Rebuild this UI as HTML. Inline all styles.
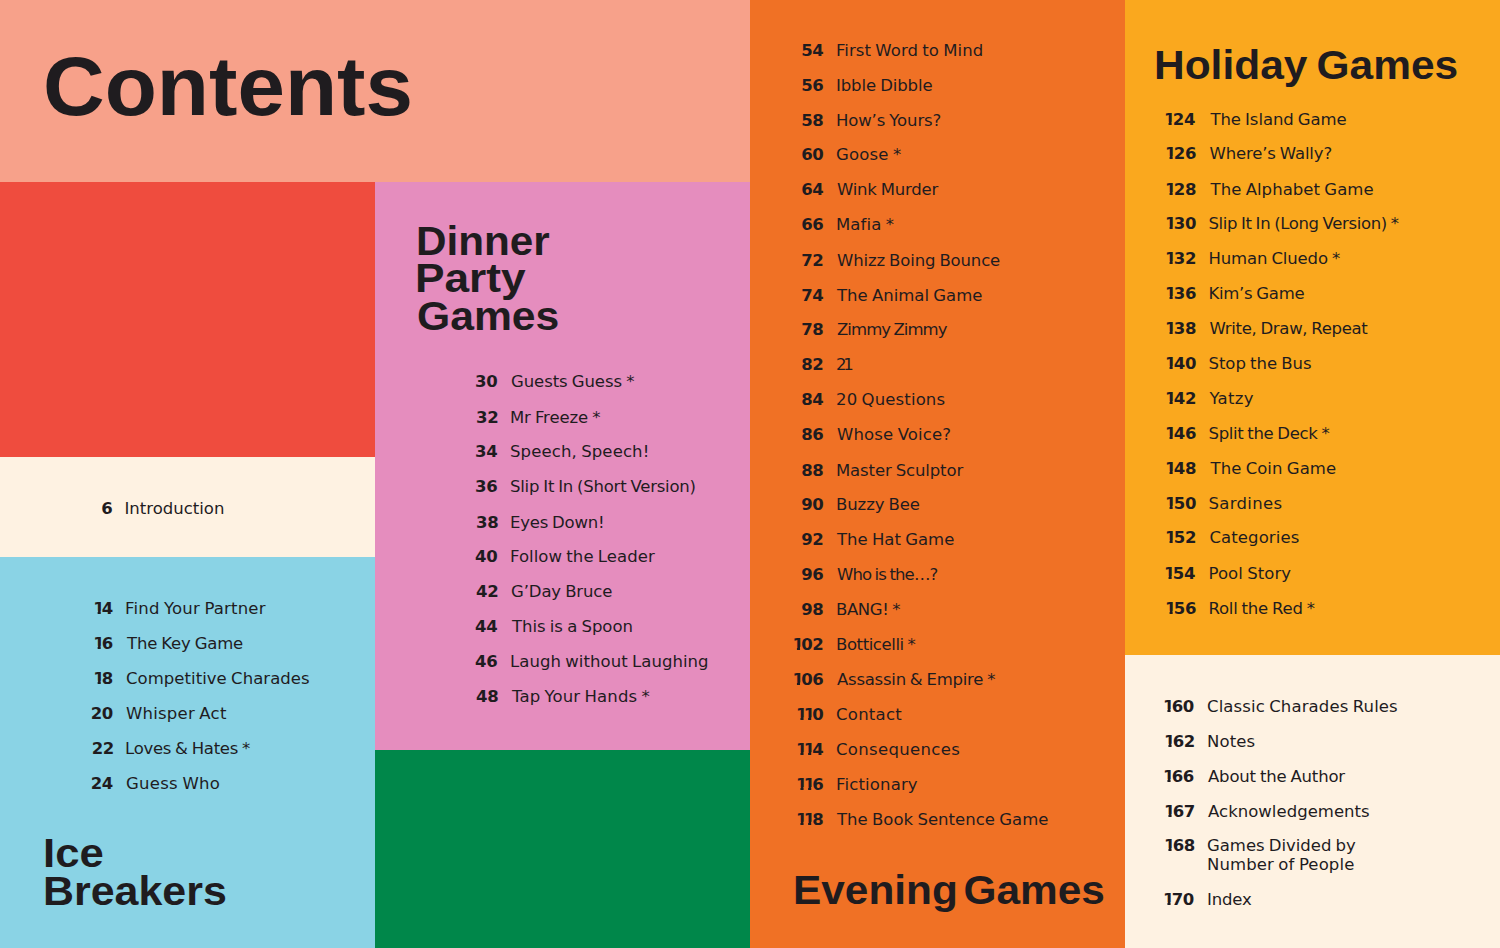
<!DOCTYPE html>
<html lang="en">
<head>
<meta charset="utf-8">
<title>Contents</title>
<style>

html,body{margin:0;padding:0;}
body{width:1500px;height:948px;position:relative;overflow:hidden;background:#FEF2E2;color:#1F1C1F;}
.b{position:absolute;}
.h{position:absolute;font-family:"Liberation Sans",Arial,sans-serif;font-weight:700;white-space:nowrap;margin:0;font-size:41.5px;line-height:38px;}
.n,.t{position:absolute;font-family:"DejaVu Sans","Liberation Sans",sans-serif;font-size:16.5px;line-height:20px;white-space:nowrap;}
.n{font-weight:700;text-align:right;letter-spacing:-0.3px;}
.t{word-spacing:-1.0px;}
.n i{font-style:normal;clip-path:polygon(0 0,100% 0,100% 12.2px,7.6px 12.2px,7.6px 100%,4.5px 100%,4.5px 12.2px,0 12.2px);margin-left:-1px;letter-spacing:-2.8px;}

</style>
</head>
<body>

<div class="b" style="left:0;top:0;width:750px;height:182px;background:#F7A18A"></div>
<div class="b" style="left:0;top:182px;width:375px;height:275px;background:#EF4C3E"></div>
<div class="b" style="left:0;top:457px;width:375px;height:100px;background:#FEF2E2"></div>
<div class="b" style="left:0;top:557px;width:375px;height:391px;background:#8AD3E5"></div>
<div class="b" style="left:375px;top:182px;width:375px;height:568px;background:#E58DBE"></div>
<div class="b" style="left:375px;top:750px;width:375px;height:198px;background:#00874A"></div>
<div class="b" style="left:750px;top:0;width:375px;height:948px;background:#F07125"></div>
<div class="b" style="left:1125px;top:0;width:375px;height:655px;background:#FAA81E"></div>
<div class="b" style="left:1125px;top:655px;width:375px;height:293px;background:#FEF2E2"></div>

<h1 class="h" id="contents" style="left:43.12px;top:36px;font-size:84px;line-height:100px;word-spacing:0px;transform:scaleX(1.0164);transform-origin:0 0">Contents</h1>
<div class="h" id="dinner1" style="left:415.94px;top:222px;font-size:41.5px;line-height:37.7px;word-spacing:0px;transform:scaleX(1.0172);transform-origin:0 0">Dinner</div>
<div class="h" id="dinner2" style="left:415.01px;top:258.9px;font-size:41.5px;line-height:37.7px;word-spacing:0px;transform:scaleX(1.066);transform-origin:0 0">Party</div>
<div class="h" id="dinner3" style="left:416.94px;top:297.4px;font-size:41.5px;line-height:37.7px;word-spacing:0px;transform:scaleX(1.0282);transform-origin:0 0">Games</div>
<div class="h" id="ice1" style="left:43.25px;top:834px;font-size:41.5px;line-height:37.7px;word-spacing:0px;transform:scaleX(1.053);transform-origin:0 0">Ice</div>
<div class="h" id="ice2" style="left:43.29px;top:871.7px;font-size:41.5px;line-height:37.7px;word-spacing:0px;transform:scaleX(1.0347);transform-origin:0 0">Breakers</div>
<div class="h" id="evening" style="left:792.54px;top:871px;font-size:41.5px;line-height:37.7px;word-spacing:-6px;transform:scaleX(1.0212);transform-origin:0 0">Evening Games</div>
<div class="h" id="holiday" style="left:1153.94px;top:46px;font-size:41.5px;line-height:37.7px;word-spacing:-2.5px;transform:scaleX(1.0231);transform-origin:0 0">Holiday Games</div>
<span class="n" id="n-intro0" style="right:1387.5px;top:498.5px">6</span>
<span class="t" id="t-intro0" style="left:124.5px;top:498.5px;letter-spacing:0.0px">Introduction</span>
<span class="n" id="n-ice0" style="right:1387.0px;top:598.5px"><i>1</i>4</span>
<span class="t" id="t-ice0" style="left:125.0px;top:598.5px;letter-spacing:0.188px">Find Your Partner</span>
<span class="n" id="n-ice1" style="right:1387.0px;top:633.5px"><i>1</i>6</span>
<span class="t" id="t-ice1" style="left:127.0px;top:633.5px;letter-spacing:-0.181px">The Key Game</span>
<span class="n" id="n-ice2" style="right:1387.0px;top:668.5px"><i>1</i>8</span>
<span class="t" id="t-ice2" style="left:126.0px;top:668.5px;letter-spacing:0.042px">Competitive Charades</span>
<span class="n" id="n-ice3" style="right:1387.0px;top:703.5px">20</span>
<span class="t" id="t-ice3" style="left:126.0px;top:703.5px;letter-spacing:0.22px">Whisper Act</span>
<span class="n" id="n-ice4" style="right:1386.0px;top:738.5px">22</span>
<span class="t" id="t-ice4" style="left:125.0px;top:738.5px;letter-spacing:-0.272px">Loves &amp; Hates *</span>
<span class="n" id="n-ice5" style="right:1387.0px;top:773.5px">24</span>
<span class="t" id="t-ice5" style="left:126.0px;top:773.5px;letter-spacing:0.277px">Guess Who</span>
<span class="n" id="n-dinner0" style="right:1002.6px;top:372.0px">30</span>
<span class="t" id="t-dinner0" style="left:511.0px;top:372.0px;letter-spacing:-0.076px">Guests Guess *</span>
<span class="n" id="n-dinner1" style="right:1001.6px;top:407.65px">32</span>
<span class="t" id="t-dinner1" style="left:510.0px;top:407.65px;letter-spacing:-0.12px">Mr Freeze *</span>
<span class="n" id="n-dinner2" style="right:1002.6px;top:442.3px">34</span>
<span class="t" id="t-dinner2" style="left:510.0px;top:442.3px;letter-spacing:0.115px">Speech, Speech!</span>
<span class="n" id="n-dinner3" style="right:1002.6px;top:476.95px">36</span>
<span class="t" id="t-dinner3" style="left:510.0px;top:476.95px;letter-spacing:-0.224px">Slip It In (Short Version)</span>
<span class="n" id="n-dinner4" style="right:1001.6px;top:512.6px">38</span>
<span class="t" id="t-dinner4" style="left:510.0px;top:512.6px;letter-spacing:-0.222px">Eyes Down!</span>
<span class="n" id="n-dinner5" style="right:1002.6px;top:547.25px">40</span>
<span class="t" id="t-dinner5" style="left:510.0px;top:547.25px;letter-spacing:0.05px">Follow the Leader</span>
<span class="n" id="n-dinner6" style="right:1001.6px;top:581.9px">42</span>
<span class="t" id="t-dinner6" style="left:511.0px;top:581.9px;letter-spacing:-0.12px">G’Day Bruce</span>
<span class="n" id="n-dinner7" style="right:1002.6px;top:616.55px">44</span>
<span class="t" id="t-dinner7" style="left:512.0px;top:616.55px;letter-spacing:-0.029px">This is a Spoon</span>
<span class="n" id="n-dinner8" style="right:1002.6px;top:652.2px">46</span>
<span class="t" id="t-dinner8" style="left:510.0px;top:652.2px;letter-spacing:0.056px">Laugh without Laughing</span>
<span class="n" id="n-dinner9" style="right:1001.6px;top:686.85px">48</span>
<span class="t" id="t-dinner9" style="left:512.0px;top:686.85px;letter-spacing:0.107px">Tap Your Hands *</span>
<span class="n" id="n-evening0" style="right:676.5px;top:41.0px">54</span>
<span class="t" id="t-evening0" style="left:836.0px;top:41.0px;letter-spacing:0.059px">First Word to Mind</span>
<span class="n" id="n-evening1" style="right:676.5px;top:75.8px">56</span>
<span class="t" id="t-evening1" style="left:836.0px;top:75.8px;letter-spacing:-0.108px">Ibble Dibble</span>
<span class="n" id="n-evening2" style="right:676.5px;top:110.6px">58</span>
<span class="t" id="t-evening2" style="left:836.0px;top:110.6px;letter-spacing:-0.127px">How’s Yours?</span>
<span class="n" id="n-evening3" style="right:676.5px;top:145.4px">60</span>
<span class="t" id="t-evening3" style="left:836.0px;top:145.4px;letter-spacing:0.167px">Goose *</span>
<span class="n" id="n-evening4" style="right:676.5px;top:180.2px">64</span>
<span class="t" id="t-evening4" style="left:837.0px;top:180.2px;letter-spacing:-0.22px">Wink Murder</span>
<span class="n" id="n-evening5" style="right:676.5px;top:215.0px">66</span>
<span class="t" id="t-evening5" style="left:836.0px;top:215.0px;letter-spacing:0.1px">Mafia *</span>
<span class="n" id="n-evening6" style="right:676.5px;top:250.8px">72</span>
<span class="t" id="t-evening6" style="left:837.0px;top:250.8px;letter-spacing:-0.14px">Whizz Boing Bounce</span>
<span class="n" id="n-evening7" style="right:676.5px;top:285.6px">74</span>
<span class="t" id="t-evening7" style="left:837.0px;top:285.6px;letter-spacing:0.0px">The Animal Game</span>
<span class="n" id="n-evening8" style="right:676.5px;top:320.4px">78</span>
<span class="t" id="t-evening8" style="left:837.0px;top:320.4px;letter-spacing:-0.94px">Zimmy Zimmy</span>
<span class="n" id="n-evening9" style="right:676.5px;top:355.2px">82</span>
<span class="t" id="t-evening9" style="left:836.0px;top:355.2px;letter-spacing:-3.2px">21</span>
<span class="n" id="n-evening10" style="right:676.5px;top:390.0px">84</span>
<span class="t" id="t-evening10" style="left:836.0px;top:390.0px;letter-spacing:0.128px">20 Questions</span>
<span class="n" id="n-evening11" style="right:676.5px;top:424.8px">86</span>
<span class="t" id="t-evening11" style="left:837.0px;top:424.8px;letter-spacing:0.128px">Whose Voice?</span>
<span class="n" id="n-evening12" style="right:676.5px;top:460.6px">88</span>
<span class="t" id="t-evening12" style="left:836.0px;top:460.6px;letter-spacing:-0.129px">Master Sculptor</span>
<span class="n" id="n-evening13" style="right:676.5px;top:495.4px">90</span>
<span class="t" id="t-evening13" style="left:836.0px;top:495.4px;letter-spacing:-0.098px">Buzzy Bee</span>
<span class="n" id="n-evening14" style="right:676.5px;top:530.2px">92</span>
<span class="t" id="t-evening14" style="left:837.0px;top:530.2px;letter-spacing:0.0px">The Hat Game</span>
<span class="n" id="n-evening15" style="right:676.5px;top:565.0px">96</span>
<span class="t" id="t-evening15" style="left:837.0px;top:565.0px;letter-spacing:-0.873px">Who is the…?</span>
<span class="n" id="n-evening16" style="right:676.5px;top:599.8px">98</span>
<span class="t" id="t-evening16" style="left:836.0px;top:599.8px;letter-spacing:-0.4px">BANG! *</span>
<span class="n" id="n-evening17" style="right:676.5px;top:634.6px"><i>1</i>02</span>
<span class="t" id="t-evening17" style="left:836.0px;top:634.6px;letter-spacing:-0.417px">Botticelli *</span>
<span class="n" id="n-evening18" style="right:676.5px;top:670.4px"><i>1</i>06</span>
<span class="t" id="t-evening18" style="left:837.0px;top:670.4px;letter-spacing:-0.245px">Assassin &amp; Empire *</span>
<span class="n" id="n-evening19" style="right:676.5px;top:705.2px"><i>1</i><i>1</i>0</span>
<span class="t" id="t-evening19" style="left:836.0px;top:705.2px;letter-spacing:0.267px">Contact</span>
<span class="n" id="n-evening20" style="right:676.5px;top:740.0px"><i>1</i><i>1</i>4</span>
<span class="t" id="t-evening20" style="left:836.0px;top:740.0px;letter-spacing:0.326px">Consequences</span>
<span class="n" id="n-evening21" style="right:676.5px;top:774.8px"><i>1</i><i>1</i>6</span>
<span class="t" id="t-evening21" style="left:836.0px;top:774.8px;letter-spacing:0.157px">Fictionary</span>
<span class="n" id="n-evening22" style="right:676.5px;top:809.6px"><i>1</i><i>1</i>8</span>
<span class="t" id="t-evening22" style="left:837.0px;top:809.6px;letter-spacing:0.019px">The Book Sentence Game</span>
<span class="n" id="n-holiday0" style="right:304.9px;top:109.5px"><i>1</i>24</span>
<span class="t" id="t-holiday0" style="left:1210.5px;top:109.5px;letter-spacing:-0.085px">The Island Game</span>
<span class="n" id="n-holiday1" style="right:303.9px;top:144.15px"><i>1</i>26</span>
<span class="t" id="t-holiday1" style="left:1209.5px;top:144.15px;letter-spacing:-0.153px">Where’s Wally?</span>
<span class="n" id="n-holiday2" style="right:303.9px;top:179.8px"><i>1</i>28</span>
<span class="t" id="t-holiday2" style="left:1210.5px;top:179.8px;letter-spacing:0.05px">The Alphabet Game</span>
<span class="n" id="n-holiday3" style="right:303.9px;top:214.45px"><i>1</i>30</span>
<span class="t" id="t-holiday3" style="left:1208.5px;top:214.45px;letter-spacing:-0.353px">Slip It In (Long Version) *</span>
<span class="n" id="n-holiday4" style="right:303.9px;top:249.1px"><i>1</i>32</span>
<span class="t" id="t-holiday4" style="left:1208.5px;top:249.1px;letter-spacing:-0.137px">Human Cluedo *</span>
<span class="n" id="n-holiday5" style="right:303.9px;top:283.75px"><i>1</i>36</span>
<span class="t" id="t-holiday5" style="left:1208.5px;top:283.75px;letter-spacing:-0.289px">Kim’s Game</span>
<span class="n" id="n-holiday6" style="right:303.9px;top:319.4px"><i>1</i>38</span>
<span class="t" id="t-holiday6" style="left:1209.5px;top:319.4px;letter-spacing:-0.301px">Write, Draw, Repeat</span>
<span class="n" id="n-holiday7" style="right:303.9px;top:354.05px"><i>1</i>40</span>
<span class="t" id="t-holiday7" style="left:1208.5px;top:354.05px;letter-spacing:-0.038px">Stop the Bus</span>
<span class="n" id="n-holiday8" style="right:303.9px;top:388.7px"><i>1</i>42</span>
<span class="t" id="t-holiday8" style="left:1209.5px;top:388.7px;letter-spacing:0.3px">Yatzy</span>
<span class="n" id="n-holiday9" style="right:303.9px;top:424.35px"><i>1</i>46</span>
<span class="t" id="t-holiday9" style="left:1208.5px;top:424.35px;letter-spacing:-0.333px">Split the Deck *</span>
<span class="n" id="n-holiday10" style="right:303.9px;top:459.0px"><i>1</i>48</span>
<span class="t" id="t-holiday10" style="left:1210.5px;top:459.0px;letter-spacing:0.051px">The Coin Game</span>
<span class="n" id="n-holiday11" style="right:303.9px;top:493.65px"><i>1</i>50</span>
<span class="t" id="t-holiday11" style="left:1208.5px;top:493.65px;letter-spacing:0.313px">Sardines</span>
<span class="n" id="n-holiday12" style="right:303.9px;top:528.3px"><i>1</i>52</span>
<span class="t" id="t-holiday12" style="left:1209.5px;top:528.3px;letter-spacing:0.09px">Categories</span>
<span class="n" id="n-holiday13" style="right:304.9px;top:563.95px"><i>1</i>54</span>
<span class="t" id="t-holiday13" style="left:1208.5px;top:563.95px;letter-spacing:0.065px">Pool Story</span>
<span class="n" id="n-holiday14" style="right:303.9px;top:598.6px"><i>1</i>56</span>
<span class="t" id="t-holiday14" style="left:1208.5px;top:598.6px;letter-spacing:-0.231px">Roll the Red *</span>
<span class="n" id="n-back0" style="right:306.0px;top:697.0px"><i>1</i>60</span>
<span class="t" id="t-back0" style="left:1207.0px;top:697.0px;letter-spacing:0.115px">Classic Charades Rules</span>
<span class="n" id="n-back1" style="right:305.0px;top:731.5px"><i>1</i>62</span>
<span class="t" id="t-back1" style="left:1207.0px;top:731.5px;letter-spacing:0.1px">Notes</span>
<span class="n" id="n-back2" style="right:306.0px;top:767.0px"><i>1</i>66</span>
<span class="t" id="t-back2" style="left:1208.0px;top:767.0px;letter-spacing:-0.186px">About the Author</span>
<span class="n" id="n-back3" style="right:305.0px;top:802.0px"><i>1</i>67</span>
<span class="t" id="t-back3" style="left:1208.0px;top:802.0px;letter-spacing:0.028px">Acknowledgements</span>
<span class="n" id="n-back4" style="right:305.0px;top:836.0px"><i>1</i>68</span>
<span class="t" id="t-back4" style="left:1207.0px;top:836.0px;letter-spacing:-0.026px">Games Divided by</span>
<span class="t" id="t-back4_1" style="left:1207.0px;top:855.0px;letter-spacing:0.12px">Number of People</span>
<span class="n" id="n-back5" style="right:306.0px;top:890.0px"><i>1</i>70</span>
<span class="t" id="t-back5" style="left:1207.0px;top:890.0px;letter-spacing:-0.15px">Index</span>
</body>
</html>
